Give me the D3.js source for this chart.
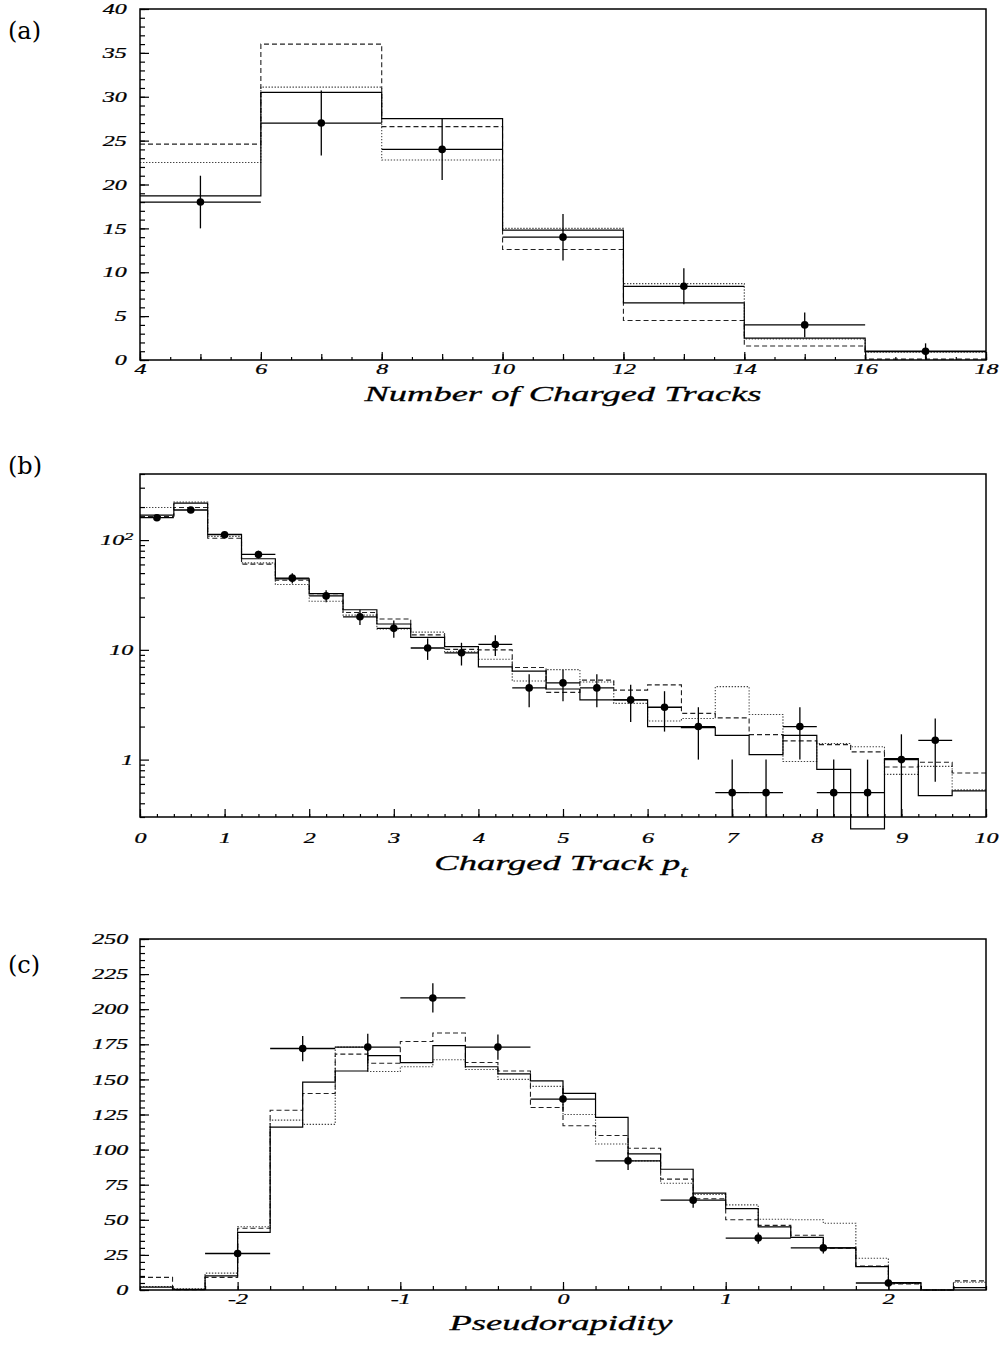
<!DOCTYPE html>
<html>
<head>
<meta charset="utf-8">
<script src="https://cdn.jsdelivr.net/npm/d3@7"></script>
<style>
  body { margin: 0; background: #fff; }
  svg { display: block; }
</style>
</head>
<body>
<div class="main"></div>
<script>
// ---------- panel (a): number of charged tracks ----------
const aEdges = [4, 6, 8, 10, 12, 14, 16, 18];
const aSolid = [18.7, 30.5, 27.5, 14.8, 6.5, 2.5, 0.95];
const aDashed = [24.6, 36.0, 26.6, 12.6, 4.5, 1.6, 0.1];
const aDotted = [22.5, 31.1, 22.8, 15.0, 8.7, 2.4, 0.9];
const aPtsX = [5, 7, 9, 11, 13, 15, 17];
const aPtsY = [18, 27, 24, 14, 8.4, 4, 1];
const aPtsErr = [3, 3.7, 3.5, 2.65, 2.05, 1.4, 0.9];
const aXLabels = [4, 6, 8, 10, 12, 14, 16, 18];
const aYLabels = [0, 5, 10, 15, 20, 25, 30, 35, 40];

// ---------- panel (b): charged track pt (log y) ----------
const bStart = 0, bWidth = 0.4, bBins = 25;
const bSolid = [169, 217, 113, 67.6, 44.3, 32.5, 23.2, 17.2, 13.0, 10.7, 7.0, 6.4, 4.4,
  3.5, 3.5, 2.0, 1.96, 1.66, 1.11, 1.66, 0.815, 0.234, 1.02, 0.47, 0.52];
const bDashed = [164, 198, 104, 60.4, 43, 32.5, 21.9, 19.1, 13.7, 10.1, 10.0, 6.9, 4.1,
  5.3, 4.3, 4.8, 2.64, 2.4, 1.69, 1.48, 1.37, 1.175, 0.857, 0.945, 0.755];
const bDotted = [198, 222, 108, 62, 39.4, 27.7, 20.7, 15.5, 14.5, 9.6, 8.2, 5.2, 6.6,
  5.1, 3.25, 2.25, 2.37, 4.62, 2.58, 0.96, 1.40, 1.31, 0.734, 0.868, 0.53];
const bPtsY = [160, 188, 112, 74, 45, 31, 20, 15.7, 10.4, 9.4, 11.2, 4.5, 5, 4.5, 3.5, 3,
  2, 0.5, 0.5, 2, 0.5, 0.5, 1, 1.5];
const bPtsErr = [9, 10, 7.5, 6, 4.8, 3.9, 3.2, 2.8, 2.3, 2.2, 2.4, 1.5, 1.6, 1.5, 1.3, 1.2,
  1, 0.5, 0.5, 1, 0.5, 0.5, 0.7, 0.87];
const bXLabels = [0, 1, 2, 3, 4, 5, 6, 7, 8, 9, 10];
const bYLabels = [1, 10, 100];

// ---------- panel (c): pseudorapidity ----------
const cStart = -2.6, cWidth = 0.2, cBins = 26;
const cSolid = [2, 0.5, 10, 41, 116, 148, 156, 167, 162, 174, 159, 154, 149, 140, 123, 97,
  86, 69, 58, 45, 37.5, 30, 16.6, 5.2, 0, 1.7];
const cDashed = [9, 0.3, 9, 44, 128, 140, 168, 161.5, 177, 183, 162, 156, 130, 117, 110, 101,
  79, 65, 50, 46, 39, 29.7, 17, 4.3, 0, 6.5];
const cDotted = [2.5, 0.8, 12, 45, 121, 118, 173, 155.6, 159, 164, 157, 150, 145, 125, 104, 92,
  76, 68, 60.6, 50.4, 50, 47.5, 22.6, 4.7, 0, 5.5];
const cPtsX = [-2, -1.6, -1.2, -0.8, -0.4, 0, 0.4, 0.8, 1.2, 1.6, 2.0];
const cPtsY = [26, 172, 173, 208, 173, 136, 92, 64, 37, 30, 5];
const cPtsErr = [7, 9, 9.5, 10.4, 9, 8, 6.5, 5.5, 4, 4, 2.5];
const cXLabels = [-2, -1, 0, 1, 2];
const cYLabels = [0, 25, 50, 75, 100, 125, 150, 175, 200, 225, 250];

const SERIF = "'Liberation Serif','Times New Roman',serif";
const SX = 1.66; // the original lettering is stretched sideways
const left = 140, right = 986;

const svg = d3.select(".main").append("svg").attr("width", 1002).attr("height", 1347);

const styles = {
  solid: { stroke: "#000", width: 1.2, dash: null },
  dashed: { stroke: "#222", width: 1.1, dash: "5,3" },
  dotted: { stroke: "#444", width: 1.1, dash: "1.4,1.6" },
};

function steps(x, y, edges, vals) {
  const pts = vals.map((v, i) => [x(edges[i]), y(v)]);
  pts.push([x(edges[vals.length]), y(vals[vals.length - 1])]);
  return d3.line().curve(d3.curveStepAfter)(pts);
}

function styleText(sel, size) {
  sel.selectAll("text")
    .attr("font-family", SERIF)
    .attr("font-style", "italic")
    .attr("font-size", size)
    .attr("fill", "#000")
    .attr("stroke", "#000").attr("stroke-width", 0.25)
    .attr("transform", `scale(${SX},1)`);
}

function axisPair(g, axis, scale, ticks, size, pos) {
  const a = g.append("g").attr("transform", pos)
    .call(axis(scale).tickValues(ticks).tickSize(-size).tickFormat(""));
  a.select(".domain").remove();
  a.selectAll("line").attr("stroke", "#000").attr("stroke-width", 1.2);
  return a;
}

function drawPanel(p) {
  const g = svg.append("g");
  const x = p.x, y = p.y;
  const top = y.range()[1], bottom = y.range()[0];
  const ymin = y.domain()[0];

  // histograms
  [["dotted", p.dotted], ["dashed", p.dashed], ["solid", p.solid]].forEach(([k, vals]) => {
    const s = styles[k];
    g.append("path")
      .attr("d", steps(x, y, p.edges, vals))
      .attr("fill", "none")
      .attr("stroke", s.stroke)
      .attr("stroke-width", s.width)
      .attr("stroke-dasharray", s.dash);
  });

  // data points with errors
  const pts = p.ptsY.map((v, i) => ({ x: p.ptsX[i], v: v, e: p.ptsErr[i] }));
  const dg = g.append("g");
  dg.selectAll(".hbar").data(pts).join("line")
    .attr("x1", d => x(d.x - p.half)).attr("x2", d => x(d.x + p.half))
    .attr("y1", d => y(d.v)).attr("y2", d => y(d.v))
    .attr("stroke", "#000").attr("stroke-width", 1.3);
  dg.selectAll(".vbar").data(pts).join("line")
    .attr("x1", d => x(d.x)).attr("x2", d => x(d.x))
    .attr("y1", d => y(d.v + d.e)).attr("y2", d => y(Math.max(d.v - d.e, ymin)))
    .attr("stroke", "#000").attr("stroke-width", 1.3);
  dg.selectAll("circle").data(pts).join("circle")
    .attr("cx", d => x(d.x)).attr("cy", d => y(d.v)).attr("r", 3.8).attr("fill", "#000");

  // inward ticks on left and bottom
  axisPair(g, d3.axisLeft, y, p.yMinor, 5, `translate(${left},0)`);
  const ya = g.append("g").attr("transform", `translate(${left},0)`)
    .call(d3.axisLeft(y).tickValues(p.yMajor).tickSize(-9).tickPadding(p.yPad).tickFormat(p.yFmt));
  ya.select(".domain").remove();
  ya.selectAll("line").attr("stroke", "#000").attr("stroke-width", 1.2);
  styleText(ya, 14.5);
  if (p.yPost) p.yPost(ya);

  p.xMinor.forEach(([ticks, size]) => axisPair(g, d3.axisBottom, x, ticks, size, `translate(0,${bottom})`));
  const xa = g.append("g").attr("transform", `translate(0,${bottom})`)
    .call(d3.axisBottom(x).tickValues(p.xMajor).tickSize(-8).tickPadding(p.xPad).tickFormat(d => String(d)));
  xa.select(".domain").remove();
  xa.selectAll("line").attr("stroke", "#000").attr("stroke-width", 1.2);
  styleText(xa, 14.5);

  // frame
  g.append("rect").attr("x", left).attr("y", top)
    .attr("width", right - left).attr("height", bottom - top)
    .attr("fill", "none").attr("stroke", "#000").attr("stroke-width", 1.5);

  // axis title
  const t = svg.append("text")
    .attr("transform", `translate(${p.titleX},${p.titleY}) scale(${SX},1)`)
    .attr("text-anchor", "middle")
    .attr("font-family", SERIF).attr("font-style", "italic").attr("font-size", 22)
    .attr("stroke", "#000").attr("stroke-width", 0.3);
  t.append("tspan").text(p.title);
  if (p.sub) t.append("tspan").attr("dy", 7).attr("font-size", 16).text(p.sub);

  // panel tag
  svg.append("text").attr("x", 8).attr("y", p.tagY)
    .attr("font-family", "'DejaVu Serif',serif").attr("font-size", 24)
    .text(p.tag);
}

// ---- (a)
const xa = d3.scaleLinear().domain([4, 18]).range([left, right]);
const ya = d3.scaleLinear().domain([0, 40]).range([360, 9]);
drawPanel({
  x: xa, y: ya, edges: aEdges, solid: aSolid, dashed: aDashed, dotted: aDotted,
  ptsX: aPtsX, ptsY: aPtsY, ptsErr: aPtsErr, half: 1,
  yMinor: d3.range(0, 41, 1), yMajor: aYLabels, yPad: 8, yFmt: d => String(d),
  xMinor: [[d3.range(4, 18.01, 0.5), 3], [d3.range(4, 18.01, 1), 6]], xMajor: aXLabels, xPad: 4,
  title: "Number of Charged Tracks", titleX: 563, titleY: 401, tag: "(a)", tagY: 39,
});

// ---- (b)
const bEdges = d3.range(bBins + 1).map(i => bStart + i * bWidth);
const xb = d3.scaleLinear().domain([0, 10]).range([left, right]);
const yb = d3.scaleLog().domain([0.3, 400]).range([817, 474]);
const bMinor = [0.3, 0.4, 0.5, 0.6, 0.7, 0.8, 0.9, 2, 3, 4, 5, 6, 7, 8, 9,
  20, 30, 40, 50, 60, 70, 80, 90, 200, 300, 400];
drawPanel({
  x: xb, y: yb, edges: bEdges, solid: bSolid, dashed: bDashed, dotted: bDotted,
  ptsX: bPtsY.map((v, i) => bStart + (i + 0.5) * bWidth), ptsY: bPtsY, ptsErr: bPtsErr, half: bWidth / 2,
  yMinor: bMinor, yMajor: bYLabels, yPad: 4, yFmt: d => String(d),
  yPost: g => g.selectAll("text").filter(d => d === 100).each(function () {
    const t = d3.select(this);
    t.text("10");
    t.append("tspan").attr("dy", "-0.45em").attr("font-size", 11).text("2");
  }),
  xMinor: [[d3.range(0, 10.01, 0.2), 3]], xMajor: bXLabels, xPad: 16,
  title: "Charged Track p", sub: "t", titleX: 561, titleY: 870, tag: "(b)", tagY: 474,
});

// ---- (c)
const cEdges = d3.range(cBins + 1).map(i => cStart + i * cWidth);
const xc = d3.scaleLinear().domain([-2.6, 2.6]).range([left, right]);
const yc = d3.scaleLinear().domain([0, 250]).range([1290, 939]);
drawPanel({
  x: xc, y: yc, edges: cEdges, solid: cSolid, dashed: cDashed, dotted: cDotted,
  ptsX: cPtsX, ptsY: cPtsY, ptsErr: cPtsErr, half: 0.2,
  yMinor: d3.range(0, 251, 5), yMajor: cYLabels, yPad: 7, yFmt: d => String(d),
  xMinor: [[cEdges, 4]], xMajor: cXLabels, xPad: 4,
  title: "Pseudorapidity", titleX: 561, titleY: 1330, tag: "(c)", tagY: 973,
});
</script>
</body>
</html>
